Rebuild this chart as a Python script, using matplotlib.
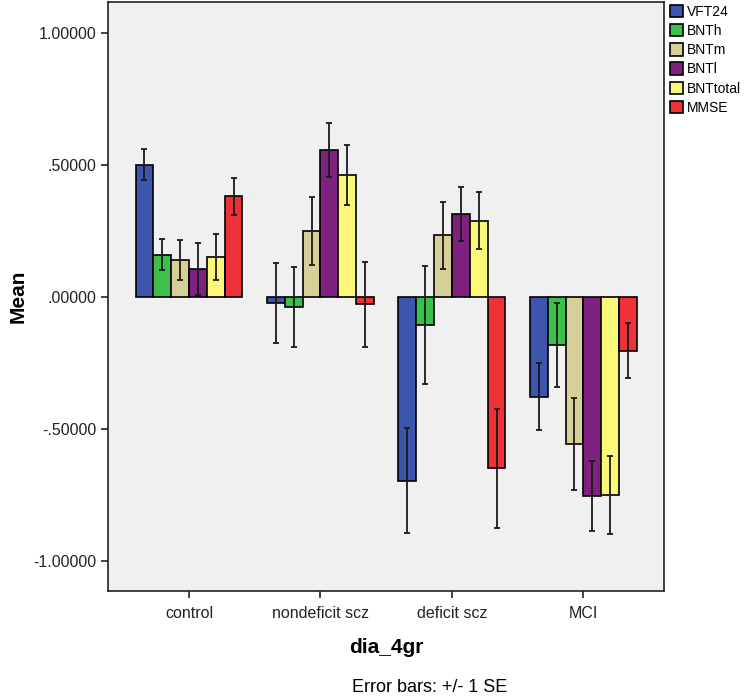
import numpy as np
import matplotlib.pyplot as plt

plt.rcParams['font.family'] = ['Liberation Sans', 'DejaVu Sans']

groups = ["control", "nondeficit scz", "deficit scz", "MCI"]
measures = ["VFT24", "BNTh", "BNTm", "BNTl", "BNTtotal", "MMSE"]
colors = ["#3d56ad", "#3dbf4b", "#d6cf98", "#7f227f", "#fbf879", "#ee3238"]

# mean per group, one list per measure
vft24 = [0.500, -0.023, -0.697, -0.380]
bnth = [0.159, -0.038, -0.107, -0.183]
bntm = [0.139, 0.248, 0.233, -0.558]
bntl = [0.105, 0.557, 0.313, -0.755]
bnttotal = [0.150, 0.461, 0.288, -0.752]
mmse = [0.380, -0.029, -0.650, -0.205]

# standard errors
se_vft24 = [0.058, 0.152, 0.200, 0.127]
se_bnth = [0.060, 0.152, 0.224, 0.158]
se_bntm = [0.076, 0.130, 0.127, 0.174]
se_bntl = [0.097, 0.102, 0.103, 0.131]
se_bnttotal = [0.087, 0.114, 0.107, 0.148]
se_mmse = [0.071, 0.162, 0.225, 0.104]

means = [vft24, bnth, bntm, bntl, bnttotal, mmse]
ses = [se_vft24, se_bnth, se_bntm, se_bntl, se_bnttotal, se_mmse]

fig = plt.figure(figsize=(7.45, 6.98), dpi=100)
ax = fig.add_axes([108/745, 1-591/698, (664-108)/745, (591-2)/698])
ax.set_facecolor("#f0f0f0")

x = np.arange(len(groups))
w = 0.1356
handles = []
for i, (m, s) in enumerate(zip(means, ses)):
    pos = x + (i - 2.5) * w
    b = ax.bar(pos, m, width=w, color=colors[i], edgecolor="black", linewidth=1.2, label=measures[i])
    ax.errorbar(pos, m, yerr=s, fmt="none", ecolor="#1a1a1a", elinewidth=1.3, capsize=2, capthick=1.3)
    handles.append(b)

ax.set_xlim(-0.616, 3.613)
ax.set_ylim(-1.115, 1.116)
ax.set_yticks([-1, -0.5, 0, 0.5, 1])
ax.set_yticklabels(["-1.00000", "-.50000", ".00000", ".50000", "1.00000"])
ax.set_xticks(x)
ax.set_xticklabels(groups)
ax.tick_params(axis="both", labelsize=11.5, length=5, width=1.2, direction="out", colors="#222222")
ax.tick_params(axis="x", pad=6)
for sp in ax.spines.values():
    sp.set_linewidth(1.2)
    sp.set_color("#222222")

ax.set_ylabel("Mean", fontsize=15, fontweight="bold", labelpad=4)
ax.set_xlabel("dia_4gr", fontsize=15, fontweight="bold", labelpad=12)
fig.text(430/745, 1-688/698, "Error bars: +/- 1 SE", fontsize=13, ha="center", va="center")

fig.legend(handles=handles, labels=measures, loc="upper left", bbox_to_anchor=(664/745, 1+1/698),
           frameon=False, fontsize=10, handlelength=1.0, handleheight=1.0, handletextpad=0.25,
           labelspacing=0.38, borderaxespad=0.2, borderpad=0.2)

fig.savefig("out.png", dpi=100)
